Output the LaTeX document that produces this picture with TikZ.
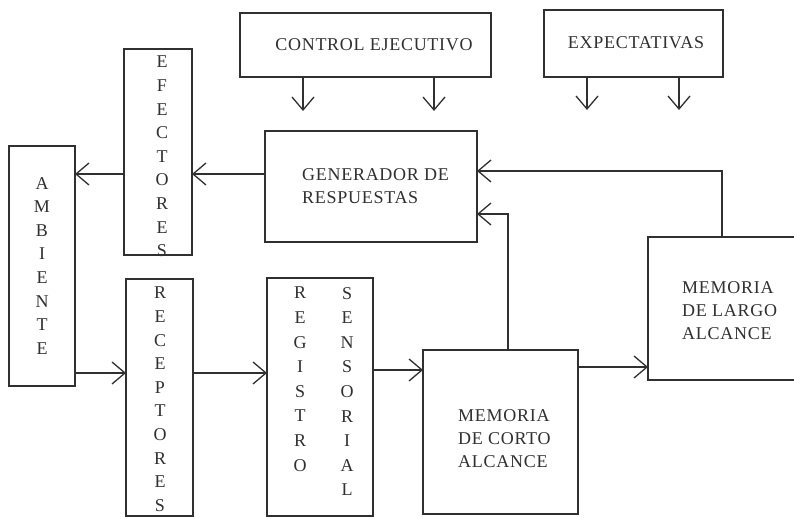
\documentclass[tikz,border=0pt]{standalone}
\usepackage{fontspec}
\setmainfont[LetterSpace=4]{Liberation Serif}
\newfontfamily\plainserif{Liberation Serif}
\usetikzlibrary{arrows.meta}
\definecolor{ink}{HTML}{303030}
\tikzset{
  box/.style={draw=ink, line width=1.3pt, inner sep=0pt, outer sep=0pt},
  arr/.style={draw=ink, line width=1.3pt, -{Straight Barb[length=13pt, width=22pt, line width=1.3pt]}},
  lbl/.style={text=ink, font=\fontsize{18}{23}\selectfont, inner sep=0pt, align=left},
  vlbl/.style={text=ink, font=\plainserif\fontsize{18}{23.6}\selectfont, inner sep=0pt, align=center},
  vlblw/.style={text=ink, font=\plainserif\fontsize{18}{24.6}\selectfont, inner sep=0pt, align=center}
}
\begin{document}
\begin{tikzpicture}[x=1pt, y=-1pt]
\useasboundingbox (0,0) rectangle (794,518);
\fill[white] (0,0) rectangle (794,518);
% boxes
\node[box, minimum width=251pt, minimum height=64pt] (ctrl) at (365.5,45) {};
\node[box, minimum width=179pt, minimum height=67pt] (expe) at (633.5,43.5) {};
\node[box, minimum width=68pt, minimum height=206pt] (efe) at (158,152) {};
\node[box, minimum width=66pt, minimum height=240pt] (amb) at (42,266) {};
\node[box, minimum width=212pt, minimum height=111pt] (gen) at (371,186.5) {};
\node[box, minimum width=160pt, minimum height=143pt] (ltm) at (728,308.5) {};
\node[box, minimum width=67pt, minimum height=237pt] (rec) at (159.5,397.5) {};
\node[box, minimum width=106pt, minimum height=238pt] (reg) at (320,397) {};
\node[box, minimum width=155pt, minimum height=164pt] (stm) at (500.5,432) {};
% texts
\node[lbl] (ctrlt) at (374,45) {CONTROL EJECUTIVO};
\node[lbl] (expet) at (636,43) {EXPECTATIVAS};
\node[vlbl, anchor=north] (efet) at (162,56) {E\\F\\E\\C\\T\\O\\R\\E\\S};
\node[vlbl, anchor=north] (ambt) at (42,177) {A\\M\\B\\I\\E\\N\\T\\E};
\node[vlbl, anchor=north] (rect) at (160,287) {R\\E\\C\\E\\P\\T\\O\\R\\E\\S};
\node[vlblw, anchor=north] (regt) at (300,287) {R\\E\\G\\I\\S\\T\\R\\O};
\node[vlblw, anchor=north] (sent) at (347,287) {S\\E\\N\\S\\O\\R\\I\\A\\L};
\node[lbl, anchor=north west] (gent) at (302,168) {GENERADOR DE\\RESPUESTAS};
\node[lbl, anchor=north west] (stmt) at (458,409) {MEMORIA\\DE CORTO\\ALCANCE};
\node[lbl, anchor=north west] (ltmt) at (682,281) {MEMORIA\\DE LARGO\\ALCANCE};
% free ends
\coordinate (c1) at (303,111);
\coordinate (c2) at (434,111);
\coordinate (e1) at (587,110);
\coordinate (e2) at (679,110);
% connectors
\draw[arr] (ctrl.south -| c1) -- (c1);
\draw[arr] (ctrl.south -| c2) -- (c2);
\draw[arr] (expe.south -| e1) -- (e1);
\draw[arr] (expe.south -| e2) -- (e2);
\draw[arr] (gen.west |- 0,174) -- (efe.east |- 0,174);
\draw[arr] (efe.west |- 0,174) -- (amb.east |- 0,174);
\draw[arr] (amb.east |- 0,373) -- (rec.west |- 0,373);
\draw[arr] (rec.east |- 0,373) -- (reg.west |- 0,373);
\draw[arr] (reg.east |- 0,370) -- (stm.west |- 0,370);
\draw[arr] (stm.east |- 0,367) -- (ltm.west |- 0,367);
\draw[arr] (stm.north -| 508,0) |- (gen.east |- 0,214);
\draw[arr] (ltm.north -| 722,0) |- (gen.east |- 0,171);
\end{tikzpicture}
\end{document}
